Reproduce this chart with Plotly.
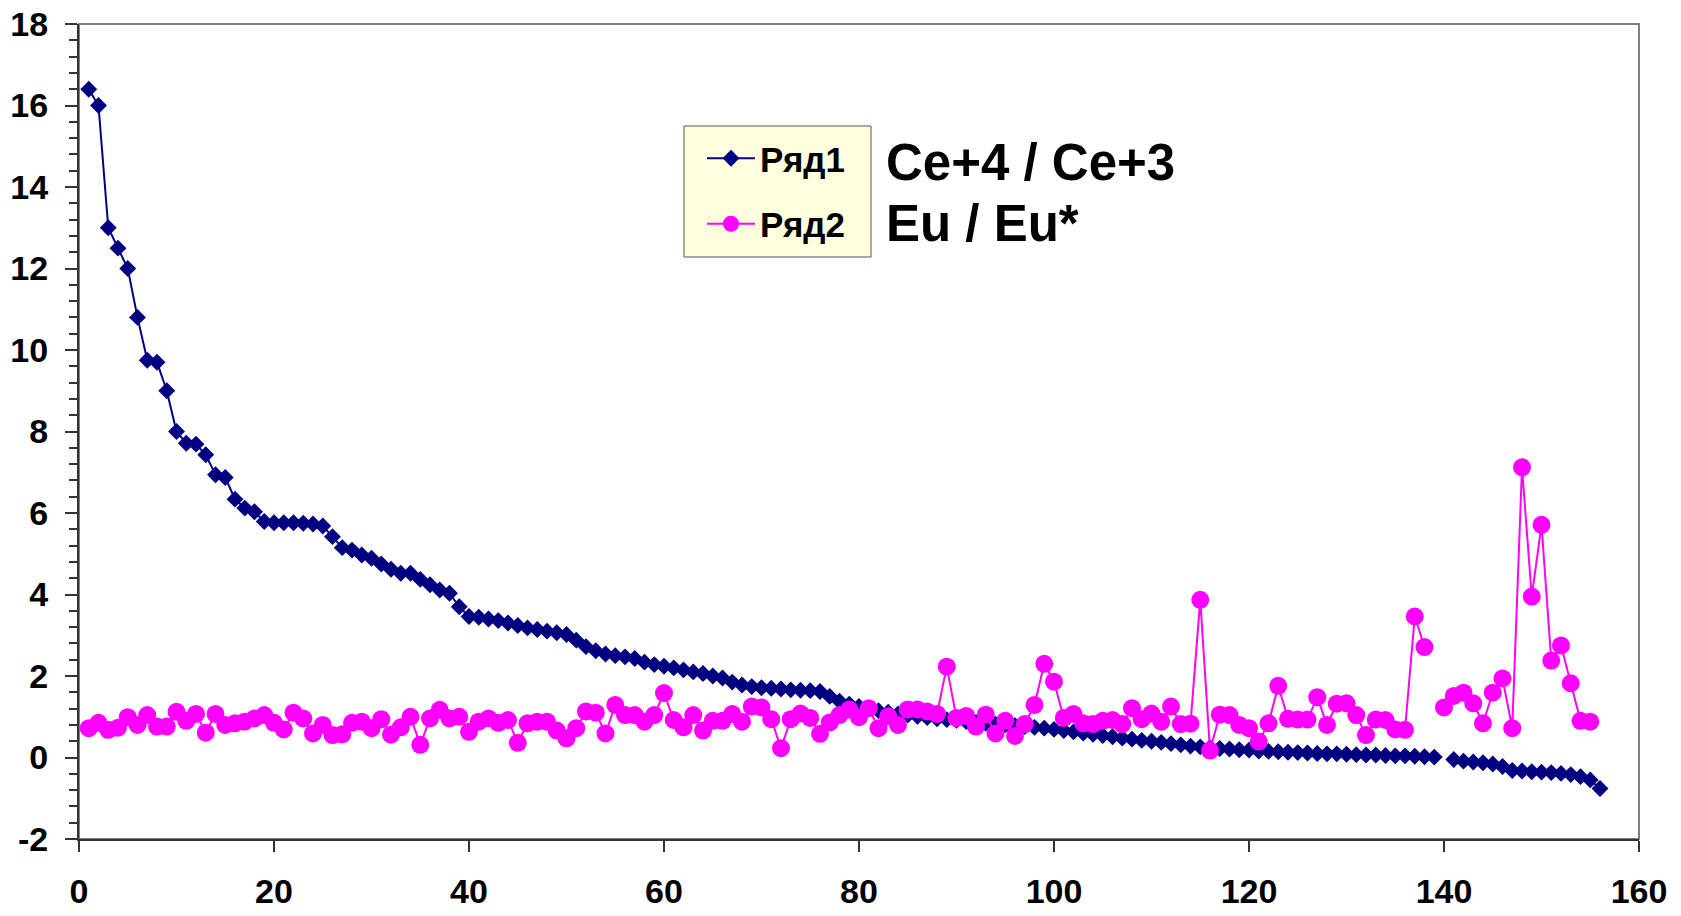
import plotly.graph_objects as go

x_values = list(range(1, 157))

ryad1 = [16.4, 16.0, 13.0, 12.5, 12.0, 10.8, 9.75, 9.7, 9.0, 8.0,
         7.71, 7.69, 7.43, 6.94, 6.87, 6.34, 6.12, 6.03, 5.79, 5.76,
         5.76, 5.76, 5.75, 5.73, 5.68, 5.42, 5.15, 5.09, 4.97, 4.89,
         4.75, 4.62, 4.52, 4.52, 4.37, 4.24, 4.11, 4.03, 3.70, 3.46,
         3.44, 3.40, 3.36, 3.30, 3.24, 3.18, 3.14, 3.10, 3.06, 3.02,
         2.88, 2.72, 2.62, 2.54, 2.50, 2.47, 2.43, 2.34, 2.28, 2.24,
         2.20, 2.15, 2.10, 2.06, 2.00, 1.95, 1.85, 1.78, 1.74, 1.71,
         1.70, 1.68, 1.66, 1.65, 1.64, 1.62, 1.50, 1.38, 1.31, 1.25,
         1.20, 1.15, 1.11, 1.07, 1.04, 1.01, 0.98, 0.95, 0.93, 0.91,
         0.88, 0.86, 0.84, 0.82, 0.80, 0.78, 0.76, 0.74, 0.72, 0.69,
         0.66, 0.63, 0.60, 0.57, 0.54, 0.51, 0.48, 0.45, 0.42, 0.40,
         0.37, 0.34, 0.31, 0.28, 0.26, 0.24, 0.22, 0.21, 0.19, 0.18,
         0.16, 0.15, 0.14, 0.13, 0.12, 0.11, 0.10, 0.09, 0.09, 0.08,
         0.07, 0.06, 0.06, 0.05, 0.04, 0.04, 0.03, 0.02, 0.01, None,
         -0.05, -0.09, -0.11, -0.13, -0.16, -0.22, -0.32, -0.33, -0.35, -0.36,
         -0.37, -0.39, -0.42, -0.47, -0.55, -0.76]

ryad2 = [0.72, 0.85, 0.68, 0.73, 0.99, 0.80, 1.04, 0.76, 0.76, 1.12,
         0.90, 1.07, 0.61, 1.07, 0.80, 0.84, 0.88, 0.96, 1.04, 0.85,
         0.69, 1.10, 0.96, 0.59, 0.80, 0.55, 0.57, 0.85, 0.88, 0.72,
         0.94, 0.56, 0.74, 1.00, 0.31, 0.96, 1.17, 0.96, 1.00, 0.63,
         0.88, 0.96, 0.85, 0.92, 0.36, 0.84, 0.88, 0.88, 0.66, 0.47,
         0.72, 1.13, 1.10, 0.59, 1.29, 1.04, 1.04, 0.88, 1.04, 1.58,
         0.92, 0.74, 1.04, 0.66, 0.90, 0.90, 1.07, 0.88, 1.25, 1.23,
         0.94, 0.23, 0.94, 1.08, 0.97, 0.58, 0.86, 1.04, 1.18, 0.99,
         1.21, 0.72, 1.01, 0.80, 1.18, 1.18, 1.13, 1.07, 2.23, 0.97,
         1.02, 0.76, 1.05, 0.59, 0.90, 0.53, 0.82, 1.29, 2.30, 1.86,
         0.97, 1.07, 0.84, 0.82, 0.90, 0.92, 0.82, 1.21, 0.94, 1.08,
         0.88, 1.25, 0.82, 0.83, 3.87, 0.17, 1.05, 1.04, 0.80, 0.72,
         0.39, 0.84, 1.76, 0.95, 0.93, 0.93, 1.48, 0.80, 1.32, 1.33,
         1.04, 0.55, 0.93, 0.92, 0.69, 0.68, 3.46, 2.71, None, 1.23,
         1.51, 1.59, 1.33, 0.84, 1.59, 1.94, 0.72, 7.12, 3.95, 5.71,
         2.38, 2.75, 1.82, 0.90, 0.88]

series_names = ["Ряд1", "Ряд2"]
ratio_labels = ["Ce+4 / Ce+3", "Eu / Eu*"]

x_ticks = [0, 20, 40, 60, 80, 100, 120, 140, 160]
y_ticks = [-2, 0, 2, 4, 6, 8, 10, 12, 14, 16, 18]
y_tick_text = [str(v) for v in y_ticks]

FONT = "Arial, Liberation Sans, sans-serif"

FIG_W, FIG_H = 1681, 916
PL, PR, PT, PB = 79, 1639, 24, 839          # plot area in window pixels
PW, PH = PR - PL, PB - PT


def px(xw):
    return (xw - PL) / PW


def py(yw):
    return 1 - (yw - PT) / PH


fig = go.Figure()
fig.add_trace(go.Scatter(
    x=x_values[:len(ryad1)], y=ryad1, name=series_names[0], mode="lines+markers",
    line=dict(color="#000080", width=2),
    marker=dict(symbol="diamond", size=13, color="#000080"),
    connectgaps=False, legendgroup="a",
))
fig.add_trace(go.Scatter(
    x=x_values[:len(ryad2)], y=ryad2, name=series_names[1], mode="lines+markers",
    line=dict(color="#FF00FF", width=2),
    marker=dict(symbol="circle", size=18, color="#FF00FF"),
    connectgaps=False, legendgroup="b",
))

axis_common = dict(
    showgrid=False, zeroline=False, showline=True, linecolor="#333333", linewidth=2,
    ticks="outside", tickcolor="#333333", tickwidth=1.5, automargin=False,
    ticklabeloverflow="allow",
    tickfont=dict(family=FONT, size=34, color="black", weight="bold"),
)

fig.update_layout(
    width=FIG_W, height=FIG_H,
    margin=dict(l=PL, r=FIG_W - PR, t=PT, b=FIG_H - PB, pad=0),
    paper_bgcolor="white", plot_bgcolor="white",
    showlegend=True,
    legend=dict(
        x=px(702), y=py(129), xanchor="left", yanchor="top",
        bgcolor="rgba(0,0,0,0)", borderwidth=0,
        font=dict(family=FONT, size=35, color="black", weight="bold"),
        tracegroupgap=17, itemwidth=48,
    ),
    xaxis=dict(range=[0, 160], tickvals=x_ticks, ticklen=11,
               ticklabelstandoff=10, **axis_common),
    yaxis=dict(range=[-2, 18], tickvals=y_ticks, ticktext=y_tick_text, ticklen=12,
               ticklabelstandoff=10,
               minor=dict(dtick=0.4, tick0=0, ticklen=8, ticks="outside",
                          tickcolor="#333333", tickwidth=1.5, showgrid=False),
               **axis_common),
    shapes=[
        dict(type="rect", xref="paper", yref="paper", x0=0, x1=1, y0=0, y1=1,
             line=dict(color="#808080", width=2), layer="below"),
        dict(type="rect", xref="paper", yref="paper",
             x0=px(684), x1=px(871), y0=py(257), y1=py(126),
             line=dict(color="#555555", width=1), fillcolor="#FFFFDD", layer="above"),
    ],
    annotations=[
        dict(text=ratio_labels[0], xref="paper", yref="paper",
             x=px(884), y=py(162), xanchor="left", yanchor="middle",
             showarrow=False, font=dict(family=FONT, size=51, color="black", weight="bold")),
        dict(text=ratio_labels[1], xref="paper", yref="paper",
             x=px(884), y=py(223), xanchor="left", yanchor="middle",
             showarrow=False, font=dict(family=FONT, size=51, color="black", weight="bold")),
    ],
)

fig.write_html("out.html", config={"displayModeBar": False},
               post_script="document.body.style.margin='0';")
